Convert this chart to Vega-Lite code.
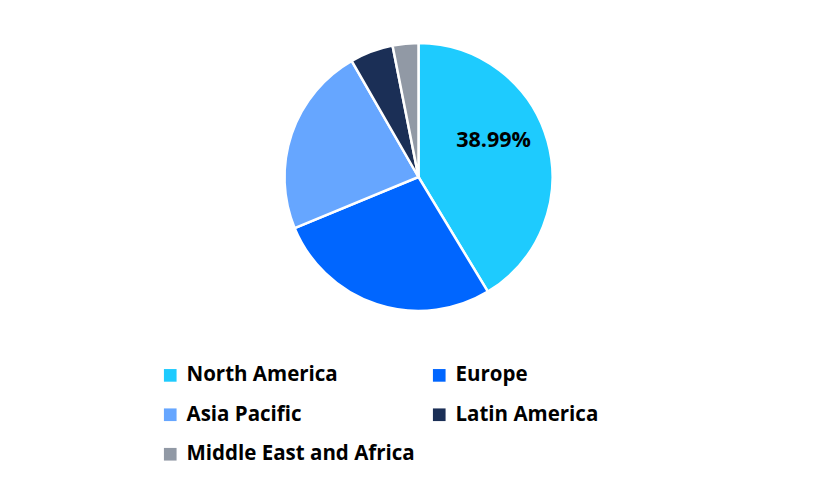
{
  "$schema": "https://vega.github.io/schema/vega-lite/v6.json",
  "width": 837,
  "height": 354,
  "autosize": {"type": "none"},
  "padding": {"left": 0, "top": 0, "right": 0, "bottom": 136},
  "background": "white",
  "config": {"view": {"stroke": null}},
  "data": {
    "values": [
      {"region": "North America", "share": 41.3, "idx": 1, "label": "38.99%"},
      {"region": "Europe", "share": 27.4, "idx": 2, "label": ""},
      {"region": "Asia Pacific", "share": 22.9, "idx": 3, "label": ""},
      {"region": "Latin America", "share": 5.2, "idx": 4, "label": ""},
      {"region": "Middle East and Africa", "share": 3.1, "idx": 5, "label": ""}
    ]
  },
  "encoding": {
    "theta": {"field": "share", "type": "quantitative", "stack": true},
    "order": {"field": "idx", "type": "quantitative"}
  },
  "layer": [
    {
      "mark": {"type": "arc", "outerRadius": 134, "stroke": "white", "strokeWidth": 2.5},
      "encoding": {
        "color": {
          "field": "region",
          "type": "nominal",
          "scale": {
            "domain": ["North America", "Europe", "Asia Pacific", "Latin America", "Middle East and Africa"],
            "range": ["#1ECBFE", "#0066FF", "#66A6FF", "#1B2F56", "#9199A5"]
          },
          "legend": {
            "orient": "none",
            "direction": "horizontal",
            "legendX": 160,
            "legendY": 365,
            "columns": 2,
            "title": null,
            "symbolType": "square",
            "symbolSize": 160,
            "symbolStrokeWidth": 0,
            "labelFont": "Open Sans",
            "labelFontWeight": "bold",
            "labelFontSize": 20.5,
            "labelColor": "black",
            "labelOffset": 6,
            "rowPadding": 18.5,
            "columnPadding": 14,
            "padding": 0,
            "labelLimit": 400
          }
        }
      }
    },
    {
      "mark": {"type": "text", "radius": 78, "dy": -15, "font": "Open Sans", "fontWeight": "bold", "fontSize": 21.5, "color": "black"},
      "encoding": {
        "text": {"field": "label"},
        "detail": {"field": "region"}
      }
    }
  ]
}
